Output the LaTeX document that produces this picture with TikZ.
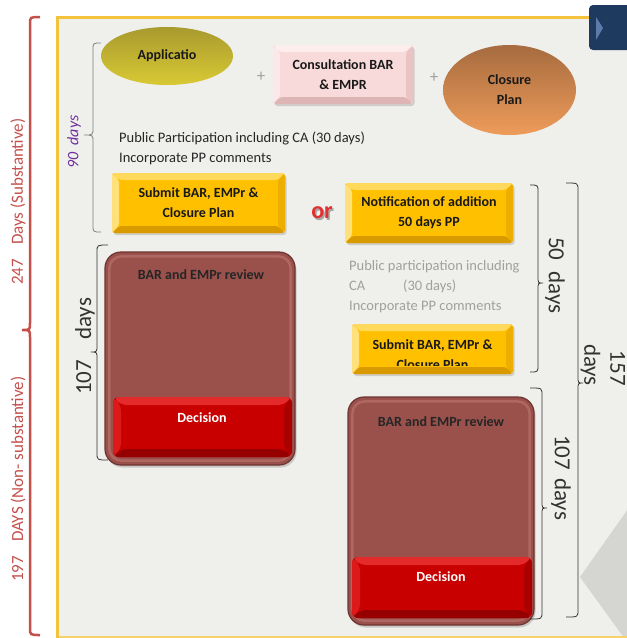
\documentclass[tikz,border=0pt]{standalone}
\usepackage{fontspec}
\setmainfont{Carlito}
\usetikzlibrary{shapes.geometric,shadows,calc}

\definecolor{panel}{HTML}{EFEFEB}
\definecolor{gold}{HTML}{F5C23E}
\definecolor{goldlt}{HTML}{F6D36A}
\definecolor{redb}{HTML}{C4504C}
\definecolor{yface}{HTML}{FFC000}
\definecolor{ytop}{HTML}{FFD95C}
\definecolor{yleft}{HTML}{FFE07A}
\definecolor{yright}{HTML}{EDAE00}
\definecolor{ybot}{HTML}{D99A00}
\definecolor{pface}{HTML}{F8DADA}
\definecolor{ptop}{HTML}{FDEDED}
\definecolor{pleft}{HTML}{FCE8E8}
\definecolor{pright}{HTML}{EAC4C4}
\definecolor{pbot}{HTML}{DDB5B5}
\definecolor{brownf}{HTML}{9A504B}
\definecolor{browndark}{HTML}{6E3430}
\definecolor{brownlight}{HTML}{C27A75}
\definecolor{rface}{HTML}{C80000}
\definecolor{rtop}{HTML}{E42A2A}
\definecolor{rleft}{HTML}{DC1A1A}
\definecolor{rright}{HTML}{AA0000}
\definecolor{rbot}{HTML}{960000}
\definecolor{navy}{HTML}{1F3A5F}
\definecolor{navylt}{HTML}{5C7BA8}
\definecolor{purp}{HTML}{7030A0}
\definecolor{greytxt}{HTML}{A0A0A0}
\definecolor{tri}{HTML}{D5D5D2}
\definecolor{ortxt}{HTML}{E0302F}

\newcommand\dbrace[7]{%
  \draw[#7] ({#1+#4},#2) .. controls (#1,#2) .. (#1,{#2+7})
    -- (#1,{#5-7}) .. controls (#1,#5) .. ({#1+#6},#5)
    .. controls (#1,#5) .. (#1,{#5+7})
    -- (#1,{#3-7}) .. controls (#1,#3) .. ({#1+#4},#3);
}

\tikzset{
  bevel/.style n args={5}{path picture={
    \path (path picture bounding box.north west) coordinate (bnw)
          (path picture bounding box.north east) coordinate (bne)
          (path picture bounding box.south east) coordinate (bse)
          (path picture bounding box.south west) coordinate (bsw);
    \fill[#1] (bnw) -- (bne) -- ($(bne)+(-#5,#5)$) -- ($(bnw)+(#5,#5)$) -- cycle;
    \fill[#2] (bnw) -- (bsw) -- ($(bsw)+(#5,-#5)$) -- ($(bnw)+(#5,#5)$) -- cycle;
    \fill[#3] (bne) -- (bse) -- ($(bse)+(-#5,-#5)$) -- ($(bne)+(-#5,#5)$) -- cycle;
    \fill[#4] (bsw) -- (bse) -- ($(bse)+(-#5,-#5)$) -- ($(bsw)+(#5,-#5)$) -- cycle;
  }},
  shad/.style={drop shadow={shadow xshift=1.5pt, shadow yshift=-2pt, opacity=.3}},
  boxfont/.style={font=\bfseries\fontsize{14}{20}\selectfont},
  ybox/.style={rectangle, rounded corners=3pt, fill=yface, bevel={ytop}{yleft}{yright}{ybot}{7},
    shad, boxfont, align=center, text=black!90, inner sep=0pt},
  pbox/.style={rectangle, rounded corners=3pt, fill=pface, bevel={ptop}{pleft}{pright}{pbot}{7},
    shad, boxfont, align=center, text=black!90, inner sep=0pt},
  dbox/.style={rectangle, rounded corners=6pt, fill=rface, bevel={rtop}{rleft}{rright}{rbot}{8},
    inner sep=0pt},
  dtxt/.style={boxfont, text=white, inner sep=0pt},
  brownbox/.style={rectangle, rounded corners=16pt, fill=brownf, draw=browndark, line width=1.2pt,
    drop shadow={shadow xshift=1.5pt, shadow yshift=-2.5pt, opacity=.35}, inner sep=0pt},
  plain/.style={font=\fontsize{14.5}{20}\selectfont, text=black!85, inner sep=0pt},
  gtxt/.style={font=\fontsize{14.5}{20}\selectfont, text=greytxt, inner sep=0pt},
  redtxt/.style={font=\fontsize{17}{20}\selectfont, text=redb, inner sep=0pt},
  daytxt/.style={font=\fontsize{23}{26}\selectfont, text=black!80, inner sep=0pt},
  plus/.style={font=\fontsize{17}{17}\selectfont, text=greytxt, inner sep=0pt},
  redbrace/.style={redb, line width=2.5pt},
  gbrace/.style={black!50, line width=0.8pt},
  kbrace/.style={black!80, line width=0.8pt},
}

\begin{document}
\begin{tikzpicture}[x=1pt, y=-1pt]
\useasboundingbox (0,0) rectangle (627,638);
\fill[white] (0,0) rectangle (627,638);

% panel
\fill[panel] (57,17) rectangle (640,637);
\fill[tri] (580,577) -- (640,492) -- (640,660) -- cycle;
\draw[goldlt, line width=2pt] (57,637) -- (640,637);
\draw[gold, line width=3pt] (57,640) -- (57,17) -- (600,17);
\fill[navy, rounded corners=4pt] (589,5) rectangle (650,50);
\fill[navylt] (596,17) -- (603,28) -- (596,40) -- cycle;

% red outer brace and labels
\dbrace{30}{17}{635}{10}{330}{-8}{redbrace}
\node[redtxt, rotate=90, anchor=west] (sub) at (18,285) {247\hspace{14pt}Days (Substantive)};
\node[redtxt, rotate=90, anchor=west] (nonsub) at (18,582) {197\hspace{14pt}DAYS (Non- substantive)};

% top row
\node[ellipse, minimum width=132pt, minimum height=58pt, inner sep=0pt,
  top color={rgb,255:red,168;green,154;blue,46}, middle color={rgb,255:red,232;green,218;blue,62},
  bottom color={rgb,255:red,217;green,201;blue,53}, boxfont, text=black!90] (app) at (167,56) {Applicatio};
\node[plus] (plus1) at (261,77) {+};
\node[pbox, minimum width=140pt, minimum height=59pt] (cons) at (343,74.5) {Consultation BAR\\\& EMPR};
\node[plus] (plus2) at (434,78) {+};
\node[ellipse, minimum width=133pt, minimum height=90pt, inner sep=0pt,
  top color={rgb,255:red,166;green,107;blue,63}, middle color={rgb,255:red,211;green,138;blue,82},
  bottom color={rgb,255:red,238;green,156;blue,90}, boxfont, text=black!90, align=center] (clos) at (509.5,90) {Closure\\Plan};

% 90 days
\dbrace{93}{43}{232}{8}{135}{-9}{gbrace}
\node[font=\itshape\fontsize{16}{16}\selectfont, text=purp, rotate=90, inner sep=0pt] (d90) at (74,142) {90\hspace{7pt}days};

\node[plain, anchor=base west] (pp1) at (119,142) {Public Participation including CA (30 days)};
\node[plain, anchor=base west] (pp2) at (119,162) {Incorporate PP comments};

\node[ybox, minimum width=173pt, minimum height=60pt] (sub1) at (198.5,203) {Submit BAR, EMPr \&\\Closure Plan};

% or
\node[font=\bfseries\fontsize{24}{24}\selectfont, text=black!35, inner sep=0pt] (orsh) at (323.5,214.5) {or};
\node[font=\bfseries\fontsize{24}{24}\selectfont, text=ortxt, inner sep=0pt] (or) at (322,213) {or};

% right column
\node[ybox, minimum width=168pt, minimum height=60pt] (notif) at (429,213) {Notification of addition\\50 days PP};
\node[gtxt, anchor=base west] (gp1) at (349,270) {Public participation including};
\node[gtxt, anchor=base west] (gp2) at (349,290) {\makebox[54pt][l]{CA}(30 days)};
\node[gtxt, anchor=base west] (gp3) at (349,310) {Incorporate PP comments};
\node[ybox, minimum width=161pt, minimum height=50pt] (sub2) at (432.5,349) {};
\begin{scope}
  \clip (358,326) rectangle (507,365);
  \node[boxfont, align=center, text=black!90, inner sep=0pt] (sub2t) at (432.5,355) {Submit BAR, EMPr \&\\Closure Plan};
\end{scope}

% left review box
\node[brownbox, minimum width=190pt, minimum height=213pt] (rev1) at (200,358.5) {};
\draw[brownlight, line width=2.5pt, rounded corners=12pt, opacity=.55]
  ([shift={(5,5)}]rev1.north west) rectangle ([shift={(-5,-5)}]rev1.south east);
\node[boxfont, text=black!85, inner sep=0pt] (rev1t) at (201,275) {BAR and EMPr review};
\node[dbox, minimum width=179pt, minimum height=60pt] (dec1) at (202.5,427) {};
\node[dtxt] (dec1t) at (202,418) {Decision};

% right review box
\node[brownbox, minimum width=186pt, minimum height=228pt] (rev2) at (441,511) {};
\draw[brownlight, line width=2.5pt, rounded corners=12pt, opacity=.55]
  ([shift={(5,5)}]rev2.north west) rectangle ([shift={(-5,-5)}]rev2.south east);
\node[boxfont, text=black!85, inner sep=0pt] (rev2t) at (441,422) {BAR and EMPr review};
\node[dbox, minimum width=180pt, minimum height=61pt] (dec2) at (442,587.5) {};
\node[dtxt] (dec2t) at (441,577) {Decision};

% day braces
\dbrace{97}{245}{460}{11}{352}{-6}{kbrace}
\node[daytxt, rotate=90, anchor=west] (d107a) at (85,395) {107\hspace{20pt}days};
\dbrace{538}{185}{372}{-8}{283}{5}{kbrace}
\node[daytxt, rotate=-90, anchor=west] (d50) at (555,237) {50\hspace{11pt}days};
\dbrace{542}{388}{619}{-12}{508}{5}{kbrace}
\node[daytxt, rotate=-90, anchor=west] (d107b) at (561,435) {107\hspace{8pt}days};
\dbrace{578}{183}{617}{-12}{383}{5}{kbrace}
\node[daytxt, rotate=-90, align=right] (d157) at (603,365) {157\\days};
\end{tikzpicture}
\end{document}
